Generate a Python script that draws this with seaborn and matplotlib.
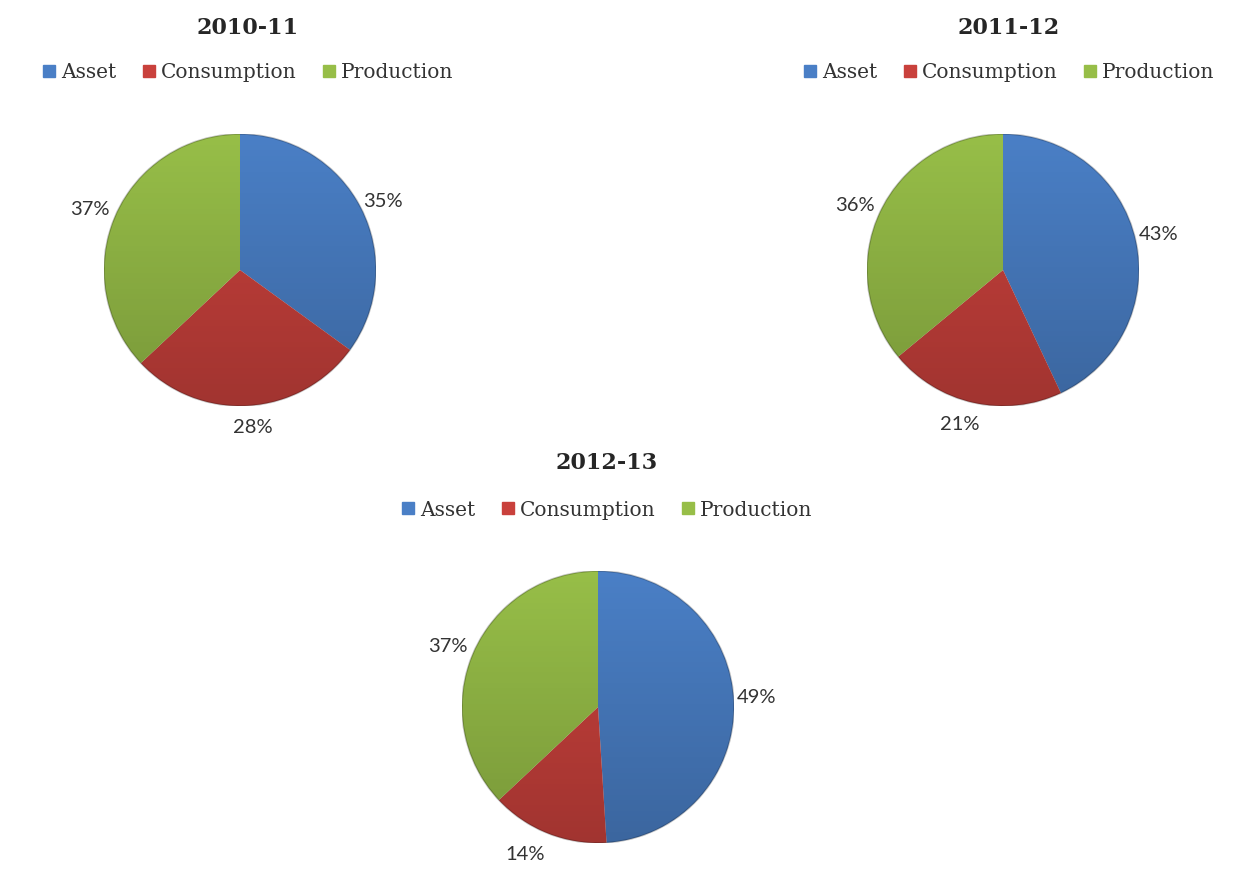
import numpy as np
import matplotlib
matplotlib.use("Agg")
import matplotlib.pyplot as plt
from matplotlib.lines import Line2D
from matplotlib.patches import Circle
import seaborn as sns

sns.set_theme(style="white")
plt.rcParams["font.family"] = ["DejaVu Serif"]

# Loan purpose shares by year
categories = ["Asset", "Consumption", "Production"]
years = ["2010-11", "2011-12", "2012-13"]
share_2010_11 = [35, 28, 37]
share_2011_12 = [43, 21, 36]
share_2012_13 = [49, 14, 37]
shares = [share_2010_11, share_2011_12, share_2012_13]

colors = ["#4A7FC6", "#C9413C", "#97BE48"]

W, H = 1249, 877
fig = plt.figure(figsize=(W / 100, H / 100), dpi=100)
fig.patch.set_facecolor("white")

# pixel layout: pie centre (x, y), radius, title/legend centre x, title y, legend y
layout = [
    (240, 270, 136, 248, 28, 73),
    (1003, 270, 136, 1009, 28, 73),
    (598, 707, 136, 607, 463, 510),
]

# vertical shading image (darker towards the bottom)
grad = np.linspace(0, 1, 256).reshape(-1, 1)
shade = np.zeros((256, 1, 4))
shade[..., 3] = 0.20 * grad[:, 0:1]


def add_pie(vals, cx, cy, r, tx, ty, ly, title):
    ax = fig.add_axes([(cx - r) / W, 1 - (cy + r) / H, 2 * r / W, 2 * r / H])
    wedges, _ = ax.pie(vals, colors=colors, startangle=90, counterclock=False,
                       radius=1.0, wedgeprops=dict(linewidth=0))
    ax.set_aspect("equal")
    ax.axis("off")

    # subtle vertical gradient over the pie
    img = ax.imshow(shade, extent=[-1, 1, -1, 1], origin="upper",
                    aspect="auto", zorder=3)
    clip = Circle((0, 0), 1.0, transform=ax.transData)
    img.set_clip_path(clip)
    ax.add_patch(Circle((0, 0), 1.0, fill=False, lw=1.2,
                        ec=(0, 0, 0, 0.22), zorder=4))
    ax.set_xlim(-1, 1)
    ax.set_ylim(-1, 1)

    total = sum(vals)
    for w, v in zip(wedges, vals):
        mid = np.deg2rad((w.theta1 + w.theta2) / 2)
        x, y = np.cos(mid), np.sin(mid)
        txt = f"{round(100 * v / total)}%"
        kw = dict(fontsize=14.5, family="Lato", color="#333333", clip_on=False)
        if abs(x) < 0.4 and y < 0:
            ax.text(1.45 * x, 1.1 * y, txt, ha="center", va="top", **kw)
        elif x >= 0:
            ax.text(1.02 * x, 1.02 * y + 0.04, txt, ha="left", va="center", **kw)
        else:
            ax.text(1.02 * x - 0.02, 1.02 * y + 0.04, txt, ha="right",
                    va="center", **kw)

    fig.text(tx / W, 1 - ty / H, title, ha="center", va="center",
             fontsize=16, fontweight="bold", color="#262626")
    handles = [Line2D([], [], marker="s", ls="", markersize=8,
                      markerfacecolor=c, markeredgecolor=c) for c in colors]
    fig.legend(handles, categories, loc="center", ncol=3,
               bbox_to_anchor=(tx / W, 1 - ly / H), frameon=False,
               fontsize=14.5, handlelength=0.6, handletextpad=0.3,
               columnspacing=1.3, labelcolor="#333333")


for vals, (cx, cy, r, tx, ty, ly), yr in zip(shares, layout, years):
    add_pie(vals, cx, cy, r, tx, ty, ly, yr)

fig.savefig("out.png", dpi=100, facecolor="white")
